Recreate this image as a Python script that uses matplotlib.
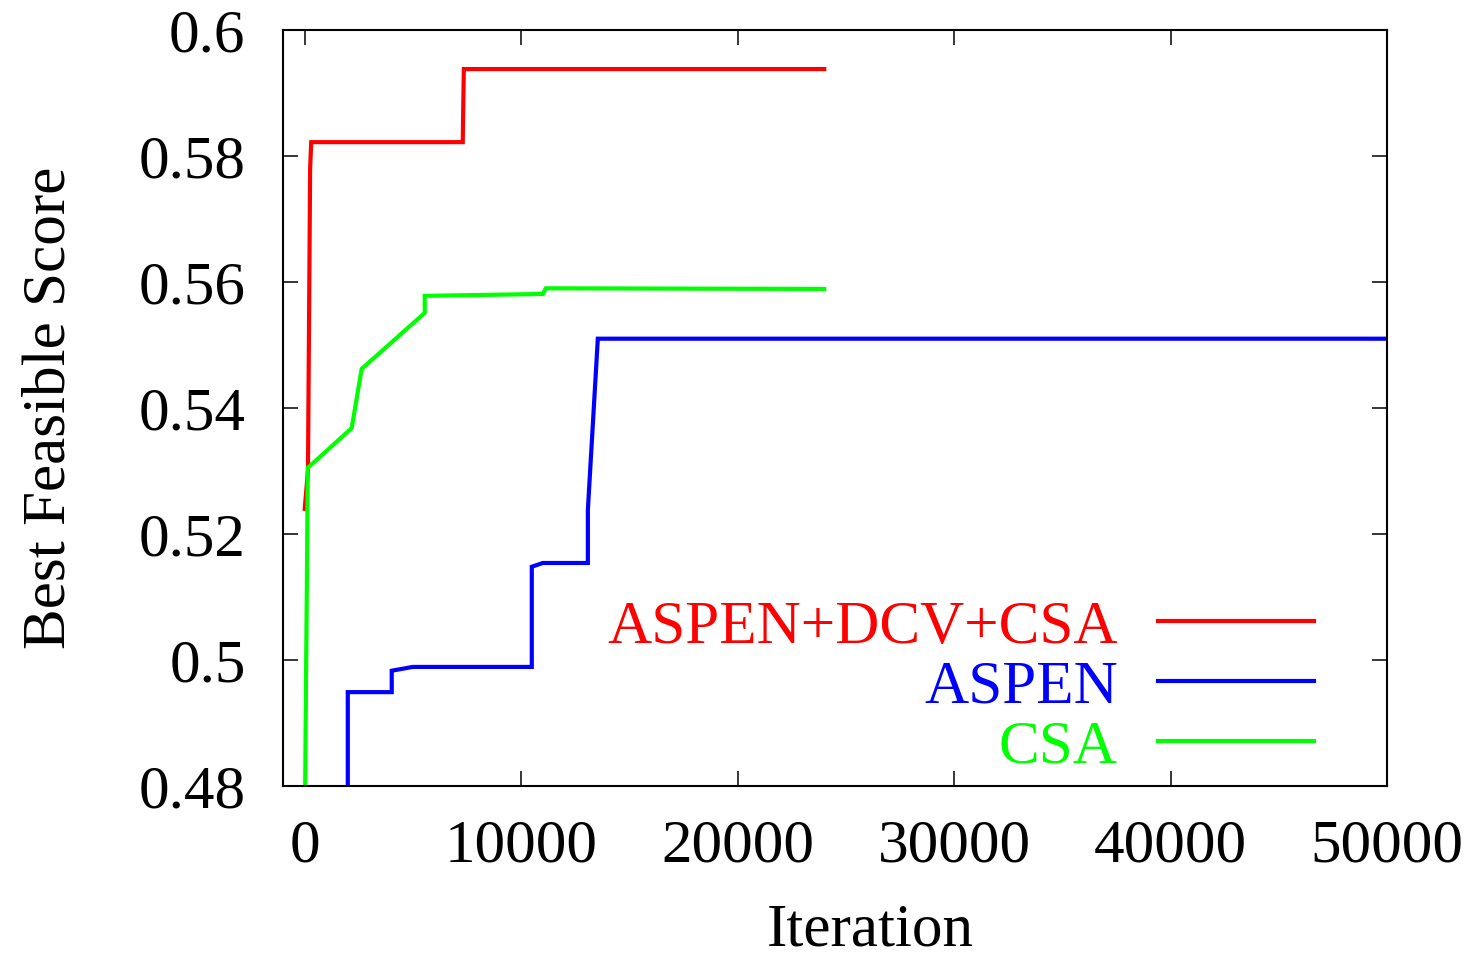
import matplotlib
matplotlib.use("Agg")
import matplotlib.pyplot as plt

plt.rcParams['font.family'] = ['Liberation Serif', 'DejaVu Serif']

# iteration / best feasible score
red_x = [0, 150, 250, 300, 7300, 7350, 24000]
red_y = [0.524, 0.530, 0.578, 0.5822, 0.5822, 0.5938, 0.5938]

blue_x = [1990, 1990, 4020, 4020, 4990, 10490, 10490, 11000, 13080, 13080, 13540, 50000]
blue_y = [0.470, 0.4949, 0.4949, 0.4983, 0.4989, 0.4989, 0.5148, 0.5154, 0.5154, 0.5238, 0.5510, 0.5510]

green_x = [0, 60, 100, 140, 2170, 2630, 5545, 5545, 11000, 11140, 24000]
green_y = [0.470, 0.497, 0.512, 0.5305, 0.5368, 0.5462, 0.5551, 0.5578, 0.5581, 0.5590, 0.5589]

labels = ['ASPEN+DCV+CSA', 'ASPEN', 'CSA']
colors = ['#ff0000', '#0000ff', '#00ff00']

fig = plt.figure(figsize=(14.72, 9.6), dpi=100)
ax = fig.add_axes([0.1923, 0.18125, 0.75, 0.7875])

for xs, ys, c, lab in zip([red_x, blue_x, green_x], [red_y, blue_y, green_y], colors, labels):
    ax.plot(xs, ys, color=c, lw=3.0, label=lab, solid_joinstyle='miter')

ax.set_xlim(-1000, 50000)
ax.set_ylim(0.48, 0.6)
ax.set_xticks([0, 10000, 20000, 30000, 40000, 50000])
ax.set_yticks([0.48, 0.5, 0.52, 0.54, 0.56, 0.58, 0.6])
ax.set_yticklabels(['0.48', '0.5', '0.52', '0.54', '0.56', '0.58', '0.6'])
ax.tick_params(direction='in', length=10.8, width=1.1, labelsize=44,
               top=True, right=True)
ax.tick_params(axis='y', pad=27)
ax.tick_params(axis='x', pad=24)
for s in ax.spines.values():
    s.set_linewidth(1.5)

ax.set_xlabel('Iteration', fontsize=44)
ax.set_ylabel('Best Feasible Score', fontsize=44)
ax.xaxis.set_label_coords(0.532, -0.155)
ax.yaxis.set_label_coords(-0.186, 0.5)

leg = ax.legend(loc='lower right', bbox_to_anchor=(0.973, -0.0425), frameon=False,
                markerfirst=False, fontsize=44, handlelength=2.56,
                handletextpad=0.66, labelspacing=0.065, borderaxespad=0.3)
for t, c in zip(leg.get_texts(), colors):
    t.set_color(c)

fig.savefig('out.png', dpi=100)
